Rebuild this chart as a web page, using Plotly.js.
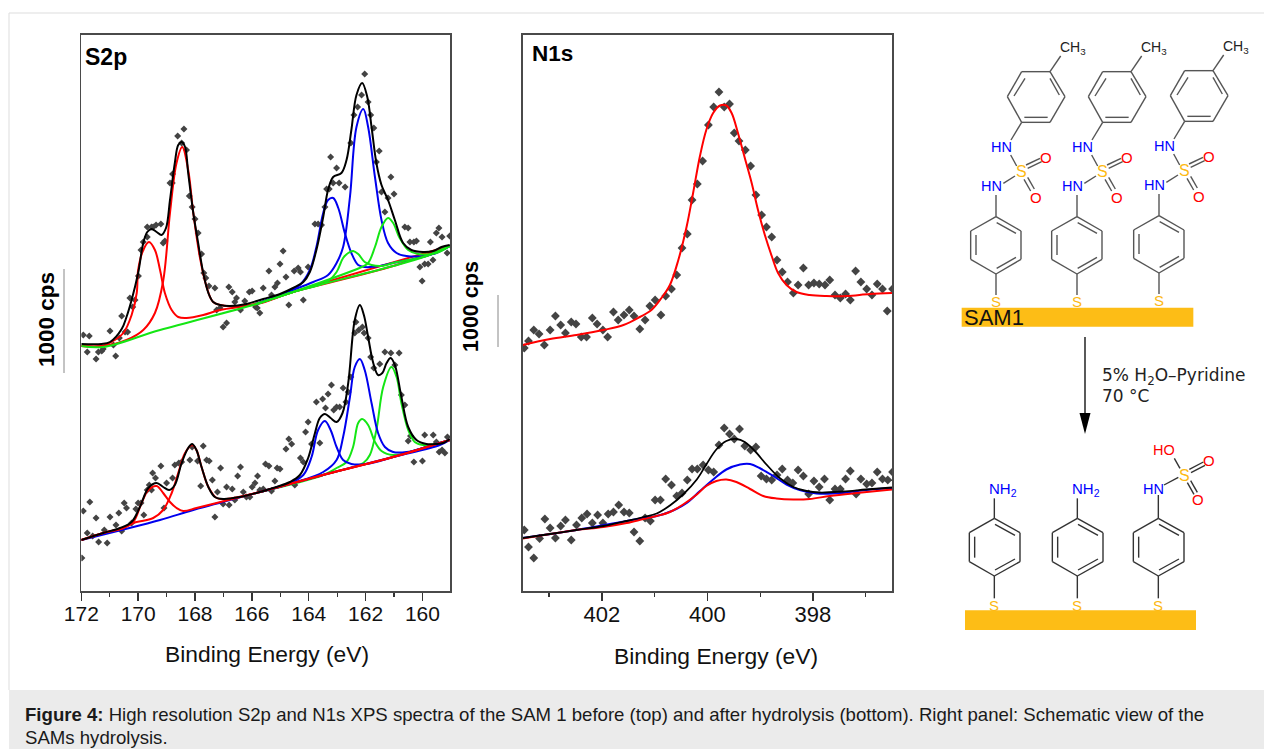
<!DOCTYPE html>
<html>
<head>
<meta charset="utf-8">
<script src="https://cdn.plot.ly/plotly-3.0.1.min.js"></script>
<style>html,body{margin:0;padding:0;background:#fff}#chart{width:1264px;height:749px}</style>
</head>
<body>
<div id="chart"></div>
<script>
// Intensity unit: 105 units = 1000 cps in S2p; spectra are stacked as in the figure.
// ---- S2p, before hydrolysis
const s2pTopDataX=[171.93,171.72,171.79,171.48,171.40,171.28,171.23,170.99,170.87,170.79,170.66,170.58,170.46,170.37,170.29,170.19,170.11,169.99,169.90,169.82,169.68,169.68,169.53,169.47,169.37,169.20,169.12,169.06,168.88,168.80,168.79,168.61,168.47,168.39,168.30,168.20,168.10,168.00,167.89,167.77,167.69,167.62,167.51,167.30,167.24,167.12,167.01,166.89,166.81,166.69,166.60,166.54,166.40,166.25,166.09,165.99,165.87,165.81,165.72,165.60,165.40,165.31,165.19,165.10,165.01,164.90,164.80,164.70,164.51,164.37,164.29,164.19,164.02,163.78,163.67,163.55,163.43,163.37,163.28,163.23,163.14,163.02,162.93,162.72,162.52,162.41,162.28,162.14,162.03,161.91,161.82,161.71,161.62,161.52,161.44,161.32,161.21,161.11,161.00,160.62,160.50,160.44,160.30,160.21,160.09,160.01,159.92,159.80,159.72,159.63,159.51,159.42,159.31,159.13,159.04];
const s2pTopDataY=[256,255,239,232,239,240,242,260,246,235,253,275,259,259,293,284,291,315,341,349,364,354,364,364,366,367,348,350,408,408,417,455,448,462,441,395,384,372,358,337,318,313,305,303,281,283,264,268,304,299,289,293,281,290,299,300,284,283,278,303,320,296,304,308,327,340,314,286,320,323,319,291,324,367,367,366,384,402,402,434,408,423,408,404,448,476,484,496,517,489,476,463,429,440,399,379,393,414,397,364,363,349,349,350,324,310,327,327,349,331,358,363,354,338,355];
const s2pTopFitX=[172.00,171.29,170.99,170.58,170.41,170.23,170.00,169.82,169.68,169.53,169.35,169.18,169.02,168.88,168.71,168.59,168.47,168.35,168.24,168.06,167.89,167.71,167.53,167.36,167.12,166.77,166.19,165.60,165.01,164.55,164.19,163.96,163.73,163.49,163.32,163.14,162.85,162.67,162.50,162.32,162.12,161.94,161.79,161.62,161.44,161.21,160.97,160.68,160.39,159.98,159.62,159.33,159.04];
const s2pTopFitY=[247,247,249,262,274,291,318,348,359,362,359,356,363,391,428,446,449,444,418,378,348,318,298,289,286,285,287,292,297,303,309,319,341,374,401,414,418,431,461,496,508,494,464,428,406,391,371,348,341,339,340,344,346];
const s2pTopBaseX=[172.00,171.23,169.23,165.84,164.55,161.03,159.86,159.04];
const s2pTopBaseY=[245,244,261,287,299,325,335,345];
const s2pTopRed1X=[172.00,171.29,170.82,170.52,170.23,170.05,170.00,169.82,169.62,169.41,169.23,169.06,168.82,168.59,168.30,167.71,167.12,165.84,164.55,161.03,159.04];
const s2pTopRed1Y=[245,245,251,258,276,298,321,341,349,341,321,298,281,274,273,276,281,287,299,325,345];
const s2pTopRed2X=[172.00,171.23,170.41,169.82,169.41,169.12,168.88,168.65,168.45,168.24,168.06,167.83,167.59,167.36,166.89,165.84,164.55,159.04];
const s2pTopRed2Y=[245,245,251,261,278,310,378,428,444,421,378,334,304,289,285,287,299,345];
const s2pTopBlue1X=[165.84,164.66,164.31,163.96,163.73,163.49,163.32,163.14,162.96,162.73,162.50,162.26,162.03,161.50,161.03,159.86,159.04];
const s2pTopBlue1Y=[287,300,306,321,344,378,391,393,383,358,338,326,324,325,328,335,345];
const s2pTopBlue2X=[165.84,164.55,163.84,163.32,163.02,162.79,162.55,162.32,162.08,161.91,161.67,161.44,161.21,160.91,160.56,159.98,159.51,159.04];
const s2pTopBlue2Y=[287,301,309,316,328,344,394,464,482,464,414,371,348,338,335,335,338,345];
const s2pTopGreen1X=[165.84,164.55,163.37,163.02,162.79,162.61,162.44,162.26,162.03,161.79,161.44,161.03,159.86,159.04];
const s2pTopGreen1Y=[287,299,309,319,333,338,340,337,329,326,325,328,335,345];
const s2pTopGreen2X=[165.84,164.55,162.14,161.91,161.67,161.44,161.21,161.03,160.80,160.50,160.15,159.51,159.04];
const s2pTopGreen2Y=[287,299,324,328,344,364,373,368,353,341,337,338,345];
// ---- S2p, after hydrolysis
const s2pBotDataX=[171.98,171.93,171.79,171.70,171.60,171.48,171.39,171.19,171.09,170.99,170.78,170.68,170.58,170.49,170.41,170.23,170.08,170.00,169.90,169.80,169.68,169.61,169.53,169.49,169.39,169.20,169.09,169.00,168.79,168.71,168.57,168.47,168.18,168.10,167.91,167.80,167.71,167.59,167.50,167.39,167.30,167.21,167.10,167.01,166.89,166.80,166.69,166.60,166.50,166.40,166.30,166.19,166.07,165.99,165.89,165.80,165.72,165.60,165.52,165.40,165.31,165.19,165.11,165.01,164.80,164.70,164.60,164.49,164.29,164.19,164.11,164.02,163.90,163.73,163.61,163.51,163.41,163.32,163.20,163.12,163.02,162.91,162.79,162.69,162.61,162.52,162.38,162.34,162.24,162.11,162.05,161.91,161.82,161.71,161.50,161.32,161.11,160.97,160.82,160.74,160.62,160.50,160.42,160.30,160.00,159.92,159.62,159.51,159.41,159.31,159.21,159.12];
const s2pBotDataY=[33,80,58,89,55,73,49,61,48,74,66,78,60,88,83,68,82,88,88,76,101,106,101,118,113,125,83,108,113,126,128,129,131,144,130,105,145,131,130,111,74,99,123,87,104,86,102,91,115,124,99,94,94,104,108,115,101,102,127,125,100,110,123,122,142,152,147,106,133,129,159,169,147,189,148,192,183,197,206,181,184,184,203,189,199,214,258,269,261,264,258,253,234,223,227,239,238,226,238,196,186,150,155,129,130,156,156,149,139,141,138,154];
const s2pBotFitX=[172.00,171.23,170.64,170.23,169.94,169.64,169.35,169.12,168.91,168.71,168.47,168.24,168.10,167.95,167.77,167.53,167.30,167.01,166.42,165.72,165.13,164.66,164.31,164.02,163.78,163.61,163.43,163.23,163.02,162.81,162.61,162.38,162.20,162.06,161.91,161.73,161.56,161.41,161.26,161.12,160.97,160.74,160.50,160.21,159.86,159.51,159.27,159.04];
const s2pBotFitY=[51,58,63,69,84,103,108,104,101,106,128,143,147,141,124,104,94,92,94,99,104,109,116,133,158,173,177,173,169,178,208,271,286,276,254,228,216,218,228,233,226,194,164,151,147,147,148,152];
const s2pBotBaseX=[172.00,169.23,168.06,165.72,163.37,161.03,159.39,159.04];
const s2pBotBaseY=[51,71,81,99,117,134,146,151];
const s2pBotRed1X=[172.00,171.23,170.52,170.17,169.88,169.64,169.35,169.12,168.88,168.65,168.41,167.95,167.24,165.72,163.37,161.03,159.04];
const s2pBotRed1Y=[51,58,63,69,88,101,105,98,89,83,80,83,88,99,117,134,151];
const s2pBotRed2X=[172.00,171.23,170.52,170.17,169.47,169.12,168.82,168.59,168.35,168.10,167.95,167.77,167.53,167.24,166.89,165.72,163.37,161.03,159.04];
const s2pBotRed2Y=[51,58,63,68,73,81,98,118,138,146,141,124,104,93,92,99,117,134,151];
const s2pBotBlue1X=[165.72,164.66,164.19,163.90,163.67,163.43,163.23,163.02,162.79,162.50,161.97,161.03,159.04];
const s2pBotBlue1Y=[99,108,116,134,161,170,161,144,131,127,127,134,151];
const s2pBotBlue2X=[165.72,164.55,163.49,163.02,162.79,162.55,162.38,162.20,162.03,161.79,161.56,161.32,161.03,160.56,159.86,159.27,159.04];
const s2pBotBlue2Y=[99,108,119,131,154,194,224,232,221,188,158,144,139,139,144,149,151];
const s2pBotGreen1X=[165.72,163.49,163.02,162.67,162.44,162.26,162.12,161.91,161.67,161.44,161.03,159.86,159.04];
const s2pBotGreen1Y=[99,116,123,129,144,168,172,166,149,140,136,144,151];
const s2pBotGreen2X=[165.72,163.37,162.08,161.85,161.62,161.38,161.09,160.91,160.74,160.50,160.27,159.98,159.51,159.04];
const s2pBotGreen2Y=[99,117,128,136,161,204,224,214,188,161,149,146,147,151];
// ---- N1s, before hydrolysis
const n1sTopDataX=[403.47,403.39,403.29,403.19,403.09,402.98,402.88,402.78,402.69,402.58,402.49,402.39,402.29,402.18,402.09,401.98,401.89,401.78,401.69,401.58,401.48,401.39,401.28,401.18,401.09,400.99,400.88,400.79,400.68,400.58,400.48,400.38,400.29,400.19,400.09,399.98,399.88,399.78,399.68,399.58,399.49,399.40,399.28,399.18,399.08,398.97,398.88,398.78,398.68,398.58,398.48,398.37,398.28,398.18,398.08,397.98,397.88,397.77,397.68,397.58,397.48,397.38,397.29,397.19,397.09,396.98,396.88,396.78,396.68,396.59,396.49];
const n1sTopDataY=[243,250,261,257,246,261,275,266,258,269,267,254,254,273,267,261,254,279,271,276,281,275,262,271,285,291,276,295,302,316,343,357,391,407,430,466,484,499,484,487,458,450,441,425,396,376,364,354,331,319,309,298,306,323,306,308,307,306,311,296,293,297,291,320,309,302,296,307,302,280,302];
const n1sTopFitX=[403.50,402.98,402.48,401.97,401.59,401.28,401.06,400.87,400.71,400.55,400.39,400.27,400.14,400.02,399.89,399.76,399.64,399.54,399.42,399.29,399.16,399.04,398.91,398.78,398.66,398.50,398.31,398.06,397.74,397.36,396.92,396.50];
const n1sTopFitY=[246,252,256,261,266,274,281,293,306,331,365,398,435,461,478,485.5,485.5,478,458,433,408,381,356,335,318,306,299,296,295,295,297,298];
// ---- N1s, after hydrolysis
const n1sBotDataX=[403.47,403.39,403.29,403.18,403.08,402.98,402.88,402.78,402.69,402.58,402.48,402.38,402.28,402.18,402.08,401.98,401.88,401.78,401.68,401.58,401.48,401.39,401.28,401.18,401.08,400.99,400.89,400.79,400.68,400.58,400.48,400.38,400.29,400.19,400.08,399.98,399.88,399.78,399.68,399.58,399.49,399.39,399.29,399.18,399.08,398.98,398.88,398.78,398.68,398.58,398.48,398.38,398.28,398.18,398.08,397.98,397.88,397.78,397.68,397.58,397.48,397.38,397.29,397.18,397.09,396.98,396.88,396.78,396.68,396.58,396.49];
const n1sBotDataY=[61,44,33,52.5,72,63,53,65,71,51,66,73,77,68,76,68,77,79,86,79,78,59,50,73,70,91,91,112,106,95,98,111,122,122,126,121,119,146,163,157,152,162,145,141,144,115,112,111,116,122,111,108,121,115,97,110,104,112,91,102,102,112,120,97,112,107,108,119,112,111,119];
const n1sBotFitX=[403.50,402.98,402.48,401.97,401.53,401.21,400.96,400.71,400.46,400.20,400.02,399.83,399.64,399.45,399.29,399.10,398.88,398.63,398.37,398.12,397.87,397.43,396.99,396.50];
const n1sBotFitY=[53,57,61,65,70,74,77.5,85.5,96.5,111.5,126.5,141.5,150,152,149,140,126.5,113,104,100,98.5,99.5,101.5,103.5];
const n1sBotBlueX=[403.50,402.48,401.53,401.21,400.96,400.65,400.39,400.14,399.89,399.64,399.38,399.19,399.01,398.75,398.50,398.25,397.93,397.43,396.99,396.50];
const n1sBotBlueY=[53,61,70,73,75,80.5,88,100,111.5,121.5,126.5,127,123,115,106.5,101,97.5,98,101,103];
const n1sBotRedX=[403.50,402.98,402.48,401.97,401.53,401.21,400.96,400.71,400.46,400.20,400.02,399.83,399.64,399.45,399.19,398.94,398.69,398.37,398.06,397.68,397.17,396.50];
const n1sBotRedY=[52.5,57,61,64,68,72,75,79,86.5,96.5,105,110,111.5,109,102,95,92.5,91.5,92,95,98,101.5];

const s2pTicks=[172,170,168,166,164,162,160];
const n1sTicks=[402,400,398];
const RED='#ff0000',BLUE='#0000ee',GREEN='#14e614',BLACK='#000000',DOT='#444444';

function pts(x,y,ax,ay,size){return {x,y,xaxis:ax,yaxis:ay,type:'scatter',mode:'markers',hoverinfo:'skip',
  marker:{symbol:'diamond',size,color:DOT,line:{width:0}}};}
function cur(x,y,c,ax,ay,w){return {x,y,xaxis:ax,yaxis:ay,type:'scatter',mode:'lines',hoverinfo:'skip',
  line:{color:c,width:w||2,shape:'spline',smoothing:1}};}

const traces=[
 pts(s2pTopDataX,s2pTopDataY,'x','y',5.4),
 pts(s2pBotDataX,s2pBotDataY,'x','y',5.4),
 cur(s2pTopRed1X,s2pTopRed1Y,RED,'x','y'),
 cur(s2pTopRed2X,s2pTopRed2Y,RED,'x','y'),
 cur(s2pTopBlue1X,s2pTopBlue1Y,BLUE,'x','y'),
 cur(s2pTopBlue2X,s2pTopBlue2Y,BLUE,'x','y'),
 cur(s2pTopGreen1X,s2pTopGreen1Y,GREEN,'x','y'),
 cur(s2pTopGreen2X,s2pTopGreen2Y,GREEN,'x','y'),
 cur(s2pTopBaseX,s2pTopBaseY,GREEN,'x','y'),
 cur(s2pTopFitX,s2pTopFitY,BLACK,'x','y'),
 cur(s2pBotGreen1X,s2pBotGreen1Y,GREEN,'x','y'),
 cur(s2pBotGreen2X,s2pBotGreen2Y,GREEN,'x','y'),
 cur(s2pBotBaseX,s2pBotBaseY,BLUE,'x','y'),
 cur(s2pBotBlue1X,s2pBotBlue1Y,BLUE,'x','y'),
 cur(s2pBotBlue2X,s2pBotBlue2Y,BLUE,'x','y'),
 cur(s2pBotRed1X,s2pBotRed1Y,RED,'x','y'),
 cur(s2pBotRed2X,s2pBotRed2Y,RED,'x','y'),
 cur(s2pBotFitX,s2pBotFitY,BLACK,'x','y'),
 pts(n1sTopDataX,n1sTopDataY,'x2','y2',6.8),
 pts(n1sBotDataX,n1sBotDataY,'x2','y2',6.8),
 cur(n1sTopFitX,n1sTopFitY,RED,'x2','y2'),
 cur(n1sBotBlueX,n1sBotBlueY,BLUE,'x2','y2'),
 cur(n1sBotRedX,n1sBotRedY,RED,'x2','y2'),
 cur(n1sBotFitX,n1sBotFitY,BLACK,'x2','y2',1.8)
];

// page helpers: schematic and page furniture are placed in page pixels
const W=1264,H=749,FONT='"Liberation Sans",Arial,sans-serif';
const fx=p=>p/W, fy=p=>1-p/H;
const shapes=[],annotations=[];
function seg(x0,y0,x1,y1,c,w){shapes.push({type:'line',xref:'paper',yref:'paper',x0:fx(x0),y0:fy(y0),x1:fx(x1),y1:fy(y1),line:{color:c||'#444',width:w||1.4}});}
function box(x0,y0,x1,y1,fill,line){shapes.push({type:'rect',xref:'paper',yref:'paper',layer:'below',x0:fx(x0),y0:fy(y0),x1:fx(x1),y1:fy(y1),fillcolor:fill,line:{width:line?1:0,color:line||fill}});}
function txt(x,y,t,size,color,opt){annotations.push(Object.assign({xref:'paper',yref:'paper',x:fx(x),y:fy(y),text:t,showarrow:false,xanchor:'center',yanchor:'middle',
  font:{family:FONT,size,color:color||'#000'}},opt||{}));}
const TX=(z,dx)=>940+z/3+(dx||0), TY=(z,dy)=>30+z/3+(dy||0), BY=z=>330+z/3;
function topSeg(a,b,c,d,dx,dy,col){seg(TX(a,dx),TY(b,dy),TX(c,dx),TY(d,dy),col);}
function botSeg(a,b,c,d,dx){seg(TX(a,dx),BY(b),TX(c,dx),BY(d),'#333');}

// figure furniture
box(0,0,1264,749,'#ffffff');
seg(9,13,1264,13,'#dddddd',1);
seg(9,13,9,690,'#dddddd',1);
box(9,690,1264,749,'#ebebeb');
txt(23,714,'<b>Figure 4:</b> High resolution S2p and N1s XPS spectra of the SAM 1 before (top) and after hydrolysis (bottom). Right panel: Schematic view of the',18.6,'#1a1a1a',{xanchor:'left'});
txt(23,737,'SAMs hydrolysis.',18.6,'#1a1a1a',{xanchor:'left'});

// panel labels, axis titles, scale bars
txt(105.5,57,'<b>S2p</b>',23,'#000');
txt(552,54,'<b>N1s</b>',22.5,'#000');
txt(266.5,654,'Binding Energy (eV)',22.8,'#111');
txt(716,656,'Binding Energy (eV)',22.8,'#111');
txt(46,320,'<b>1000 cps</b>',22.5,'#000',{textangle:-90});
txt(471,307,'<b>1000 cps</b>',21.5,'#000',{textangle:-90});
seg(64,269,64,373,'#888888',1);
seg(498,295,498,347,'#888888',1);

// starting material: three columns
const SAM_DX=[0,81,163],DY=[0,0,-1];
for(let i=0;i<3;i++){
  const d=SAM_DX[i],e=DY[i],g='#555';
  [[245,125,330,125],[330,125,375,200],[375,200,330,277],[330,277,245,277],[245,277,202,200],[202,200,245,125],
   [255,145,222,198],[330,145,358,195],[253,262,323,262],[330,125,362,78],[245,277,213,330],[212,375,230,408],
   [258,405,300,385],[263,415,305,395],[252,448,272,483],[263,442,283,477],[190,460,225,438],[168,495,168,560],
   [168,560,243,603],[243,603,243,688],[243,688,168,732],[168,732,92,688],[92,688,92,603],[92,603,168,560],
   [170,578,228,610],[108,615,108,675],[170,715,228,682],[168,732,168,795]].forEach(s=>topSeg(s[0],s[1],s[2],s[3],d,e,g));
  txt(TX(400,d),TY(55,e),'CH<sub>3</sub>',14,'#222');
  txt(TX(185,d),TY(350,e),'HN',14.5,'#0000ff');
  txt(TX(243,d),TY(425,e),'S',16,'#fdb913');
  txt(TX(318,d),TY(383,e),'O',15,'#ff0000');
  txt(TX(153,d),TY(468,e),'HN',14.5,'#0000ff');
  txt(TX(287,d),TY(502,e),'O',15,'#ff0000');
  txt(TX(168,d),TY(815,e),'S',15,'#fdb913');
}
box(TX(65),TY(833),TX(760),TY(890),'#fdbd16');
txt(TX(66),TY(862),'SAM1',22,'#111',{xanchor:'left'});

// reaction arrow
seg(1085,337,1085,413,'#000',1.3);
shapes.push({type:'path',xref:'paper',yref:'paper',fillcolor:'#000',line:{width:0},
  path:`M ${fx(1079.5)} ${fy(413)} L ${fx(1090.5)} ${fy(413)} L ${fx(1085)} ${fy(434)} Z`});
const DJ={family:'"DejaVu Sans",sans-serif',size:17,color:'#222'};
txt(1100,376,'5% H<sub>2</sub>O–Pyridine',17,'#222',{xanchor:'left',font:DJ});
txt(1100,396,'70 °C',17,'#222',{xanchor:'left',font:DJ});

// hydrolysis product: three columns
[0,83,164].forEach((d,i)=>{
  [[163,565,240,608],[240,608,240,695],[240,695,163,738],[163,738,88,695],[88,695,88,608],[88,608,163,565],
   [165,583,225,616],[104,620,104,683],[165,720,225,687],[163,738,163,805]].forEach(s=>botSeg(s[0],s[1],s[2],s[3],d));
  txt(TX(163,d),BY(825),'S',15,'#fdb913');
  if(i<2){
    botSeg(163,505,163,565,d);
    txt(TX(190,d),BY(480),'NH<sub>2</sub>',15,'#0000ff');
  }
});
[[655,495,655,565],[672,465,715,442],[748,418,790,396],[753,428,795,406],[742,458,762,493],[752,452,772,487],[703,385,720,415]]
  .forEach(s=>seg(TX(s[0]),BY(s[1]),TX(s[2]),BY(s[3]),'#333',1.4));
txt(TX(640),BY(478),'HN',14.5,'#0000ff');
txt(TX(732),BY(435),'S',16,'#fdb913');
txt(TX(807),BY(390),'O',15,'#ff0000');
txt(TX(773),BY(508),'O',15,'#ff0000');
txt(TX(672),BY(360),'HO',14.5,'#ff0000');
box(TX(75),BY(841),TX(768),BY(900),'#fdbd16');

function xAxis(domain,range,ticks,size){return {
  domain,range,tickmode:'array',tickvals:ticks,ticktext:ticks.map(String),ticks:'outside',ticklen:8,tickwidth:1.5,tickcolor:'#333',
  minor:{dtick:1,ticks:'outside',ticklen:4,tickwidth:1.2,tickcolor:'#333',showgrid:false},
  showgrid:false,zeroline:false,showline:true,mirror:true,linecolor:'#4a4a4a',linewidth:1.6,ticklabelstandoff:-5,
  tickfont:{family:FONT,size,color:'#111'}
};}
function yAxis(anchor){return {domain:[fy(591),fy(35)],range:[0,556],showticklabels:false,ticks:'',showgrid:false,zeroline:false,
  showline:true,mirror:true,linecolor:'#4a4a4a',linewidth:1.6,anchor};}

const layout={
  width:W,height:H,margin:{l:0,r:0,t:0,b:0},paper_bgcolor:'#fff',plot_bgcolor:'rgba(0,0,0,0)',showlegend:false,
  xaxis:Object.assign(xAxis([fx(81.3),fx(450)],[172,159.03],s2pTicks,21),{anchor:'y'}),
  yaxis:yAxis('x'),
  xaxis2:Object.assign(xAxis([fx(522.7),fx(892)],[403.5,396.5],n1sTicks,22),{anchor:'y2'}),
  yaxis2:yAxis('x2'),
  shapes,annotations
};
Plotly.newPlot('chart',traces,layout,{displayModeBar:false,staticPlot:true});
</script>
</body>
</html>
